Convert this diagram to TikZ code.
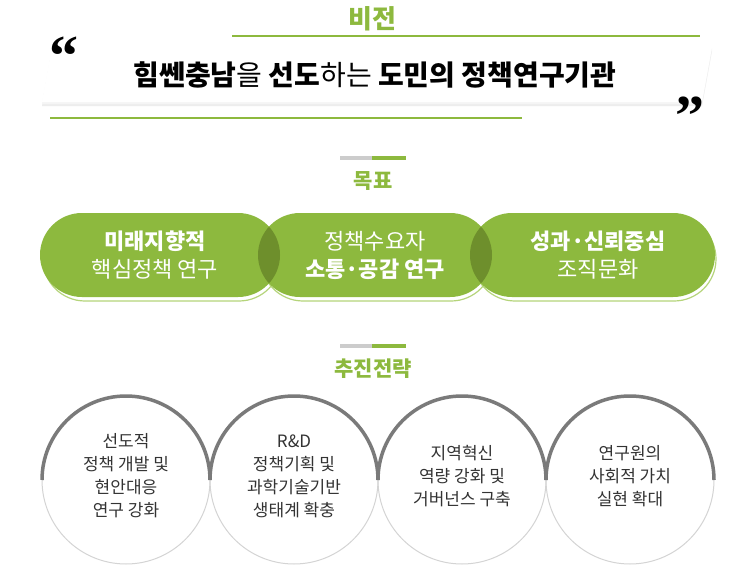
\documentclass[tikz,border=0pt]{standalone}
\usepackage{fontspec}
\setmainfont{Noto Sans CJK KR}
\newfontfamily\quotefont{Liberation Serif}
\definecolor{leaf}{HTML}{8DB93E}
\definecolor{leafdark}{HTML}{6E8F2C}
\definecolor{leaflight}{HTML}{B5D47A}
\definecolor{ringdark}{HTML}{7A7A7A}
\definecolor{ringlight}{HTML}{D4D4D4}
\tikzset{
  heading/.style={text=leaf,font=\fontsize{21}{23}\selectfont\bfseries},
  pilltext/.style={text=white,align=center,font=\fontsize{22}{28}\selectfont},
  ringtext/.style={text=black!80,align=center,font=\fontsize{17}{23}\selectfont},
  quotemark/.style={font=\quotefont\fontsize{58}{58}\selectfont\bfseries}
}
\begin{document}
\begin{tikzpicture}[x=1pt,y=-1pt]
\useasboundingbox[fill=white] (0,0) rectangle (750,586);
% vision
\node[heading,font=\fontsize{26}{28}\selectfont\bfseries] (vision) at (372,19) {비전};
\draw[leaf,line width=1.6] (232,36) -- (700,36);
\fill[black!7] (52,51) -- (712,51) -- (702,106) -- (42,106) -- cycle;
\fill[black!4] (52,49) -- (712,49) -- (702,104) -- (42,104) -- cycle;
\fill[white] (52,47) -- (712,47) -- (702,102) -- (42,102) -- cycle;
\node[font=\fontsize{28}{30}\selectfont] (title) at (375,75) {\textbf{힘쎈충남}을 \textbf{선도}하는 \textbf{도민의 정책연구기관}};
\node[quotemark] (lq) at (64,56) {“};
\node[quotemark] (rq) at (690,116) {”};
\draw[leaf,line width=1.6] (50,118) -- (522,118);
% goals
\draw[black!20,line width=3.5] (340,158) -- (372,158);
\draw[leaf,line width=3.5] (372,158) -- (406,158);
\node[heading] (goal) at (373,181) {목표};
\foreach \a/\b in {40/280,258/492,470/715}
  \draw[leaflight,line width=1.2,rounded corners=42] (\a+3,217) rectangle (\b+1,301);
\foreach \a/\b in {40/280,258/492,470/715}
  \fill[leaf,rounded corners=42] (\a,213) rectangle (\b,297);
\begin{scope}
  \clip[rounded corners=42] (40,213) rectangle (280,297);
  \fill[leafdark,rounded corners=42] (258,213) rectangle (492,297);
\end{scope}
\begin{scope}
  \clip[rounded corners=42] (258,213) rectangle (492,297);
  \fill[leafdark,rounded corners=42] (470,213) rectangle (715,297);
\end{scope}
\node[pilltext] (goalA) at (155,255) {\textbf{미래지향적}\\핵심정책 연구};
\node[pilltext] (goalB) at (375,255) {정책수요자\\\textbf{소통·공감 연구}};
\node[pilltext] (goalC) at (598,255) {\textbf{성과·신뢰중심}\\조직문화};
% strategies
\draw[black!20,line width=3.5] (340,346) -- (372,346);
\draw[leaf,line width=3.5] (372,346) -- (406,346);
\node[heading] (plan) at (373,369) {추진전략};
\foreach \x/\t [count=\i] in {126/{선도적\\정책 개발 및\\현안대응\\연구 강화},
    294/{R\&D\\정책기획 및\\과학기술기반\\생태계 확충},
    462/{지역혁신\\역량 강화 및\\거버넌스 구축},
    630/{연구원의\\사회적 가치\\실현 확대}} {
  \draw[ringlight,line width=1] (\x+84,480) arc[start angle=0,end angle=180,radius=84];
  \draw[ringdark,line width=3.5] (\x-84,480) arc[start angle=180,end angle=360,radius=84];
  \node[ringtext] (ring\i) at (\x,476) {\t};
}
\end{tikzpicture}
\end{document}
